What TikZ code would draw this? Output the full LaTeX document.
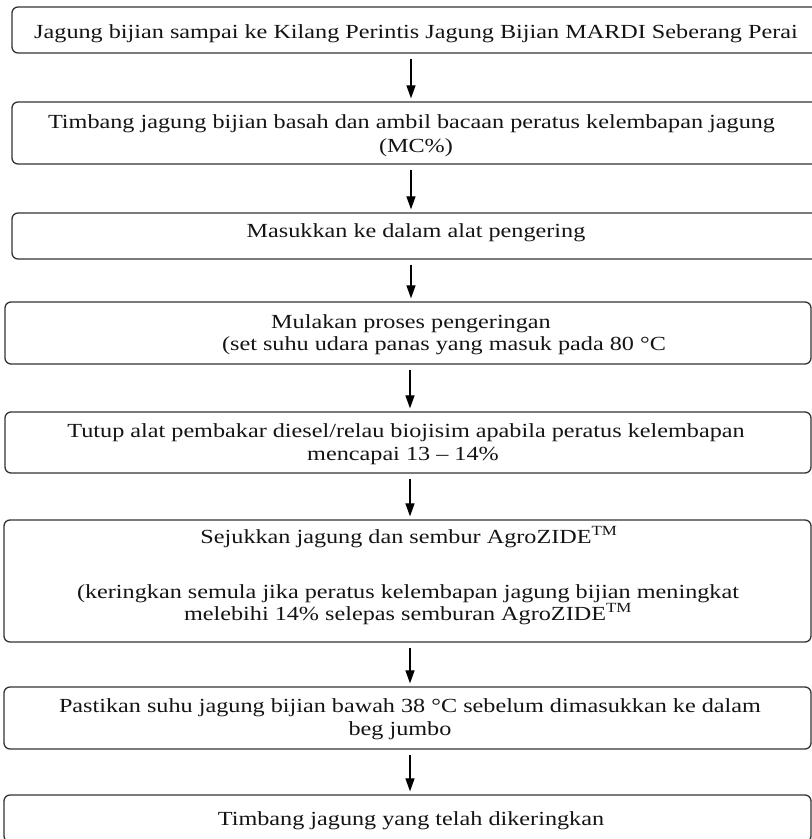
\documentclass[tikz,border=0pt]{standalone}
\usepackage{fontspec}
\setmainfont[FakeStretch=1.21]{Liberation Serif}
\usetikzlibrary{arrows.meta,fit}
\begin{document}
\begin{tikzpicture}[x=1pt,y=-1pt,
  box/.style={draw=black!80, line width=1.3pt, rounded corners=6pt, inner sep=0pt, rectangle},
  txt/.style={anchor=base, inner sep=0pt, text=black!92, font=\fontsize{20}{24}\selectfont},
  arr/.style={-{Triangle[length=13pt,width=9pt]}, line width=1.2pt, shorten <=5pt, shorten >=3pt}]
\useasboundingbox (0,0) rectangle (812,839);
\clip (0,0) rectangle (812,839);
% boxes
\node[box, fit={(12,7) (822,53)}]   (b1) {};
\node[box, fit={(12,102) (822,164)}] (b2) {};
\node[box, fit={(12,213) (822,259)}] (b3) {};
\node[box, fit={(5,302) (811,364)}]  (b4) {};
\node[box, fit={(5,412) (811,473)}]  (b5) {};
\node[box, fit={(4,520) (811,642)}]  (b6) {};
\node[box, fit={(4,687) (811,749)}]  (b7) {};
\node[box, fit={(4,795) (811,842)}]  (b8) {};
% texts
\node[txt] (t1) at (416,38) {Jagung bijian sampai ke Kilang Perintis Jagung Bijian MARDI Seberang Perai};
\node[txt] (t2a) at (411.5,128) {Timbang jagung bijian basah dan ambil bacaan peratus kelembapan jagung};
\node[txt] (t2b) at (416,152) {(MC\%)};
\node[txt] (t3) at (416,237) {Masukkan ke dalam alat pengering};
\node[txt] (t4a) at (411,328) {Mulakan proses pengeringan};
\node[txt] (t4b) at (444,350) {(set suhu udara panas yang masuk pada 80 °C};
\node[txt] (t5a) at (406,437) {Tutup alat pembakar diesel/relau biojisim apabila peratus kelembapan};
\node[txt] (t5b) at (403,460) {mencapai 13 – 14\%};
\node[txt] (t6a) at (409,543) {Sejukkan jagung dan sembur AgroZIDE\textsuperscript{TM}};
\node[txt] (t6b) at (408,598) {(keringkan semula jika peratus kelembapan jagung bijian meningkat};
\node[txt] (t6c) at (408,620) {melebihi 14\% selepas semburan AgroZIDE\textsuperscript{TM}};
\node[txt] (t7a) at (410,712) {Pastikan suhu jagung bijian bawah 38 °C sebelum dimasukkan ke dalam};
\node[txt] (t7b) at (400,735) {beg jumbo};
\node[txt] (t8) at (411,825) {Timbang jagung yang telah dikeringkan};
% arrows
\coordinate (ax1) at (411,0);
\coordinate (ax2) at (410,0);
\draw[arr] (b1.south -| ax1) -- (b2.north -| ax1);
\draw[arr] (b2.south -| ax1) -- (b3.north -| ax1);
\draw[arr] (b3.south -| ax1) -- (b4.north -| ax1);
\draw[arr] (b4.south -| ax2) -- (b5.north -| ax2);
\draw[arr] (b5.south -| ax2) -- (b6.north -| ax2);
\draw[arr] (b6.south -| ax2) -- (b7.north -| ax2);
\draw[arr] (b7.south -| ax2) -- (b8.north -| ax2);
\end{tikzpicture}
\end{document}
